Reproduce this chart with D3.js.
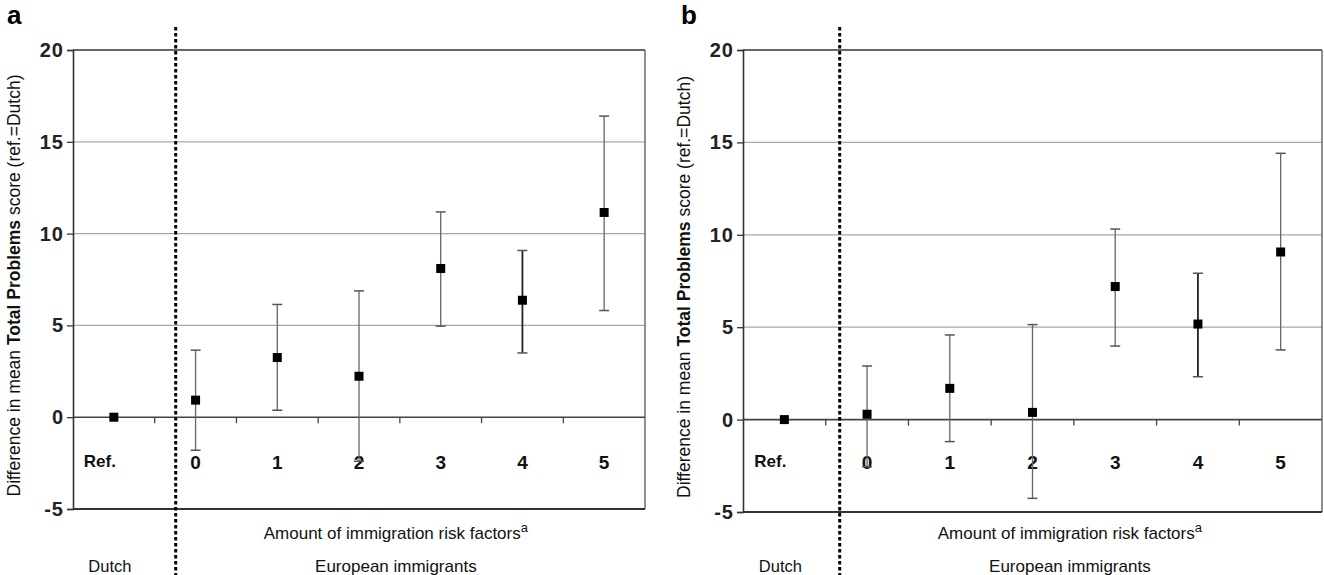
<!DOCTYPE html>
<html>
<head>
<meta charset="utf-8">
<script src="https://cdn.jsdelivr.net/npm/d3@7"></script>
<style>
  body { margin: 0; background: #fff; }
  svg { display: block; font-family: "Liberation Sans", Arial, sans-serif; }
</style>
</head>
<body>
<svg id="chart" width="1324" height="575"></svg>
<script>
// categories along the x axis
const categories = ['Ref.', '0', '1', '2', '3', '4', '5'];
const yTicks = [-5, 0, 5, 10, 15, 20];

// panel a
const meanA  = [0, 0.93, 3.25, 2.23, 8.1, 6.37, 11.15];
const lowerA = [null, -1.8, 0.38, -2.4, 4.96, 3.5, 5.81];
const upperA = [null, 3.65, 6.14, 6.88, 11.18, 9.08, 16.4];

// panel b
const meanB  = [0, 0.29, 1.69, 0.39, 7.2, 5.17, 9.07];
const lowerB = [null, -2.55, -1.19, -4.26, 3.98, 2.32, 3.77];
const upperB = [null, 2.9, 4.58, 5.14, 10.31, 7.92, 14.41];

const svg = d3.select('#chart');

function drawPanel(p) {
  const g = svg.append('g');
  const x = d3.scaleBand().domain(categories).range([p.left, p.right]).padding(0);
  const y = d3.scaleLinear().domain([-5, 20]).range([p.bottom, p.top]);

  // gridlines at 5,10,15
  g.selectAll('line.grid')
    .data(yTicks.filter(t => t > 0 && t < 20))
    .join('line')
    .attr('x1', p.left).attr('x2', p.right)
    .attr('y1', d => y(d)).attr('y2', d => y(d))
    .attr('stroke', '#a8a8a8').attr('stroke-width', 1.3);

  // frame
  g.append('line').attr('x1', p.left).attr('x2', p.right).attr('y1', p.top).attr('y2', p.top)
    .attr('stroke', '#333').attr('stroke-width', 1.6);
  g.append('line').attr('x1', p.right).attr('x2', p.right).attr('y1', p.top).attr('y2', p.bottom)
    .attr('stroke', '#555').attr('stroke-width', 1.3);
  g.append('line').attr('x1', p.left).attr('x2', p.right).attr('y1', p.bottom).attr('y2', p.bottom)
    .attr('stroke', '#333').attr('stroke-width', 1.8);

  // zero line
  g.append('line').attr('x1', p.left).attr('x2', p.right).attr('y1', y(0)).attr('y2', y(0))
    .attr('stroke', '#444').attr('stroke-width', 1.6);

  // ticks on zero line between categories
  g.selectAll('line.ctick')
    .data(categories.slice(1))
    .join('line')
    .attr('x1', d => x(d)).attr('x2', d => x(d))
    .attr('y1', y(0)).attr('y2', y(0) + 6)
    .attr('stroke', '#444').attr('stroke-width', 1.3);

  // y axis
  const yAxis = d3.axisLeft(y).tickValues(yTicks).tickSize(6).tickPadding(3).tickFormat(d => String(d));
  const ya = g.append('g').attr('transform', `translate(${p.left},0)`).call(yAxis);
  ya.select('.domain').attr('stroke', '#333').attr('stroke-width', 1.6);
  ya.selectAll('.tick line').attr('stroke', '#333').attr('stroke-width', 1.3);
  ya.selectAll('.tick text').attr('font-size', 20).attr('font-weight', 'bold').attr('fill', '#222')
    .attr('font-family', '"Liberation Sans", Arial, sans-serif')
    .style('letter-spacing', '1px');

  // category labels
  g.selectAll('text.cat')
    .data(categories)
    .join('text')
    .attr('x', d => x(d) + x.bandwidth() / 2 + (d === 'Ref.' ? -14 : 0))
    .attr('y', d => d === 'Ref.' ? 467 : 469)
    .attr('text-anchor', 'middle')
    .attr('font-size', d => d === 'Ref.' ? 17 : 19)
    .attr('font-weight', 'bold')
    .attr('fill', '#111')
    .text(d => d);

  // error bars
  const rows = categories.map((c, i) => ({ c, m: p.mean[i], lo: p.lower[i], hi: p.upper[i] }));
  const eb = rows.filter(r => r.lo !== null);
  const cx = d => x(d.c) + x.bandwidth() / 2;
  g.selectAll('line.eb').data(eb).join('line')
    .attr('x1', cx).attr('x2', cx)
    .attr('y1', d => y(d.lo)).attr('y2', d => y(d.hi))
    .attr('stroke', d => d.c === '4' ? '#222' : '#666')
    .attr('stroke-width', d => d.c === '4' ? 1.8 : 1.3);
  ['lo', 'hi'].forEach(k => {
    g.selectAll('line.cap' + k).data(eb).join('line')
      .attr('x1', d => cx(d) - 5).attr('x2', d => cx(d) + 5)
      .attr('y1', d => y(d[k])).attr('y2', d => y(d[k]))
      .attr('stroke', '#555').attr('stroke-width', 1.5);
  });

  // markers
  g.selectAll('rect.pt').data(rows).join('rect')
    .attr('x', d => cx(d) - 4.5).attr('y', d => y(d.m) - 4.5)
    .attr('width', 9).attr('height', 9)
    .attr('fill', '#000');

  // dotted separator
  const sepX = x('0') + p.sepOffset;
  g.append('line').attr('x1', sepX).attr('x2', sepX).attr('y1', 27).attr('y2', 575)
    .attr('stroke', '#000').attr('stroke-width', 3).attr('stroke-dasharray', '3.5,2.5');

  // y axis title
  const yt = g.append('text')
    .attr('transform', `translate(${p.left - 53},${(p.top + p.bottom) / 2 + 6}) rotate(-90)`)
    .attr('text-anchor', 'middle')
    .attr('font-size', 17.5)
    .attr('fill', '#111');
  yt.append('tspan').text('Difference in mean ');
  yt.append('tspan').attr('font-weight', 'bold').text('Total Problems');
  yt.append('tspan').text(' score (ref.=Dutch)');

  // x axis title
  const midX = (x('0') + p.right) / 2 - 4;
  const xt = g.append('text').attr('x', midX).attr('y', 539)
    .attr('text-anchor', 'middle').attr('font-size', 17).attr('fill', '#111');
  xt.append('tspan').text('Amount of immigration risk factors');
  xt.append('tspan').attr('dy', -7).attr('font-size', 13).text('a');

  g.append('text').attr('x', midX).attr('y', 572).attr('text-anchor', 'middle')
    .attr('font-size', 17).attr('fill', '#111').text('European immigrants');
  g.append('text').attr('x', x('Ref.') + x.bandwidth() / 2 - 4).attr('y', 572).attr('text-anchor', 'middle')
    .attr('font-size', 16.5).attr('fill', '#111').text('Dutch');

  // panel label
  g.append('text').attr('x', p.labelX).attr('y', 24)
    .attr('font-size', 26).attr('font-weight', 'bold').attr('fill', '#000').text(p.label);
}

drawPanel({ label: 'a', labelX: 7, left: 73, right: 645, top: 50, bottom: 509, sepOffset: 21,
  mean: meanA, lower: lowerA, upper: upperA });
drawPanel({ label: 'b', labelX: 681, left: 743, right: 1322, top: 50, bottom: 512, sepOffset: 14,
  mean: meanB, lower: lowerB, upper: upperB });
</script>
</body>
</html>
